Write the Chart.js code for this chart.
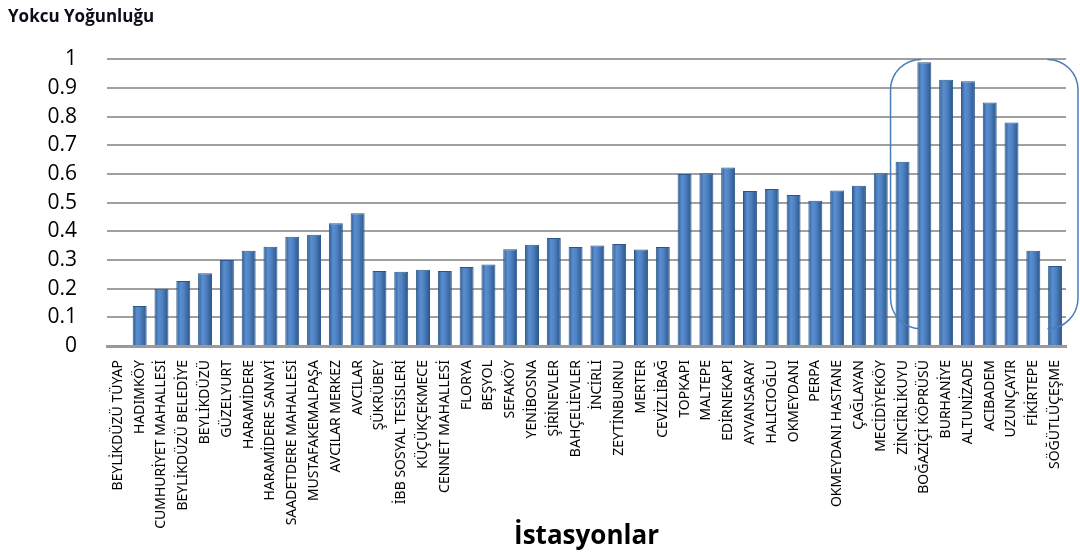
<!DOCTYPE html>
<html>
<head>
<meta charset="utf-8">
<script src="https://cdn.jsdelivr.net/npm/chart.js@4/dist/chart.umd.min.js"></script>
<style>
  html, body { margin: 0; padding: 0; background: #ffffff; }
  #wrap { width: 1080px; height: 556px; }
</style>
</head>
<body>
<div id="wrap"><canvas id="c" width="1080" height="556"></canvas></div>
<script>
const stations = [
  "BEYLİKDÜZÜ TÜYAP", "HADIMKÖY", "CUMHURİYET MAHALLESİ", "BEYLİKDÜZÜ BELEDİYE",
  "BEYLİKDÜZÜ", "GÜZELYURT", "HARAMİDERE", "HARAMİDERE SANAYİ",
  "SAADETDERE MAHALLESİ", "MUSTAFAKEMALPAŞA", "AVCILAR MERKEZ", "AVCILAR",
  "ŞÜKRÜBEY", "İBB SOSYAL TESİSLERİ", "KÜÇÜKÇEKMECE", "CENNET MAHALLESİ",
  "FLORYA", "BEŞYOL", "SEFAKÖY", "YENİBOSNA", "ŞİRİNEVLER", "BAHÇELİEVLER",
  "İNCİRLİ", "ZEYTİNBURNU", "MERTER", "CEVİZLİBAĞ", "TOPKAPI", "MALTEPE",
  "EDİRNEKAPI", "AYVANSARAY", "HALICIOĞLU", "OKMEYDANI", "PERPA",
  "OKMEYDANI HASTANE", "ÇAĞLAYAN", "MECİDİYEKÖY", "ZİNCİRLİKUYU",
  "BOĞAZİÇİ KÖPRÜSÜ", "BURHANİYE", "ALTUNİZADE", "ACIBADEM", "UZUNÇAYIR",
  "FİKİRTEPE", "SÖĞÜTLÜÇEŞME"
];
const density = [
  0.003, 0.14, 0.20, 0.227, 0.254, 0.30, 0.332, 0.346,
  0.381, 0.388, 0.428, 0.463,
  0.262, 0.259, 0.266, 0.262,
  0.276, 0.284, 0.338, 0.353, 0.377, 0.345,
  0.351, 0.356, 0.337, 0.345, 0.600, 0.603,
  0.623, 0.541, 0.548, 0.527, 0.507,
  0.543, 0.559, 0.603, 0.643,
  0.990, 0.929, 0.924, 0.850, 0.780,
  0.332, 0.279
];
const yTicks = [0, 0.1, 0.2, 0.3, 0.4, 0.5, 0.6, 0.7, 0.8, 0.9, 1];
const highlightFrom = "ZİNCİRLİKUYU";
const highlightTo = "SÖĞÜTLÜÇEŞME";

const BAR_PCT = 0.64;

function barFill(ctx) {
  const chart = ctx.chart;
  const xs = chart.scales && chart.scales.x;
  if (!xs || !chart.chartArea || ctx.type !== 'data') return '#4F81BD';
  const cx = xs.getPixelForValue(ctx.dataIndex);
  const half = (xs.width / stations.length) * BAR_PCT / 2;
  if (!isFinite(cx) || !isFinite(half) || half <= 0) return '#4F81BD';
  const g = chart.ctx.createLinearGradient(cx - half, 0, cx + half, 0);
  g.addColorStop(0, '#2D5B92');
  g.addColorStop(0.3, '#5A8ED0');
  g.addColorStop(0.55, '#4F82C2');
  g.addColorStop(1, '#2A5488');
  return g;
}

const bracketPlugin = {
  id: 'bracket',
  afterDatasetsDraw(chart) {
    const xs = chart.scales.x, ys = chart.scales.y;
    const i0 = stations.indexOf(highlightFrom), i1 = stations.indexOf(highlightTo);
    const step = xs.width / stations.length;
    const left = xs.getPixelForValue(i0) - step * 0.55;
    const right = xs.getPixelForValue(i1) + step * 1.05;
    const top = ys.getPixelForValue(1.0);
    const bottom = ys.getPixelForValue(0.06);
    const r = step * 1.4;
    const c = chart.ctx;
    c.save();
    c.strokeStyle = '#4A7EBB';
    c.lineWidth = 1.5;
    c.beginPath();
    c.moveTo(left + r, top);
    c.arcTo(left, top, left, top + r, r);
    c.lineTo(left, bottom - r);
    c.arcTo(left, bottom, left + r, bottom, r);
    c.stroke();
    c.beginPath();
    c.moveTo(right - r, top);
    c.arcTo(right, top, right, top + r, r);
    c.lineTo(right, bottom - r);
    c.arcTo(right, bottom, right - r, bottom, r);
    c.stroke();
    c.restore();
  }
};

new Chart(document.getElementById('c'), {
  type: 'bar',
  data: {
    labels: stations,
    datasets: [{
      label: 'Yokcu Yoğunluğu',
      data: density,
      backgroundColor: barFill,
      borderColor: '#2B5688',
      borderWidth: 1,
      barPercentage: BAR_PCT,
      categoryPercentage: 1.0
    }]
  },
  options: {
    responsive: false,
    animation: false,
    layout: { padding: { left: 8, right: 14, top: 0, bottom: 0 } },
    plugins: {
      legend: { display: false },
      tooltip: { enabled: false },
      title: {
        display: true,
        text: 'Yokcu Yoğunluğu',
        align: 'start',
        color: '#0d0d1a',
        font: { family: 'Open Sans', size: 17, weight: 'bold' },
        padding: { top: 7, bottom: 32 }
      }
    },
    scales: {
      x: {
        grid: { display: false },
        border: { display: true, color: '#9a9a9a', width: 3 },
        ticks: {
          autoSkip: false,
          maxRotation: 90,
          minRotation: 90,
          color: '#000',
          padding: 6,
          font: { family: 'Noto Sans', size: 14 }
        },
        title: {
          display: true,
          text: 'İstasyonlar',
          color: '#000',
          font: { family: 'Open Sans', size: 26, weight: 'bold' },
          padding: { top: 4, bottom: 4 }
        },
        afterFit(s) { s.height = 210; }
      },
      y: {
        min: 0,
        max: 1,
        afterBuildTicks(s) { s.ticks = yTicks.map(v => ({ value: v })); },
        grid: { color: '#a0a0a0', lineWidth: 2, drawTicks: false },
        border: { display: false },
        ticks: {
          color: '#000',
          padding: 30,
          font: { family: 'Open Sans', size: 21 },
          callback: (v) => String(Math.round(v * 10) / 10)
        },
        afterFit(s) { s.width = 99; }
      }
    }
  },
  plugins: [bracketPlugin]
});
</script>
</body>
</html>
